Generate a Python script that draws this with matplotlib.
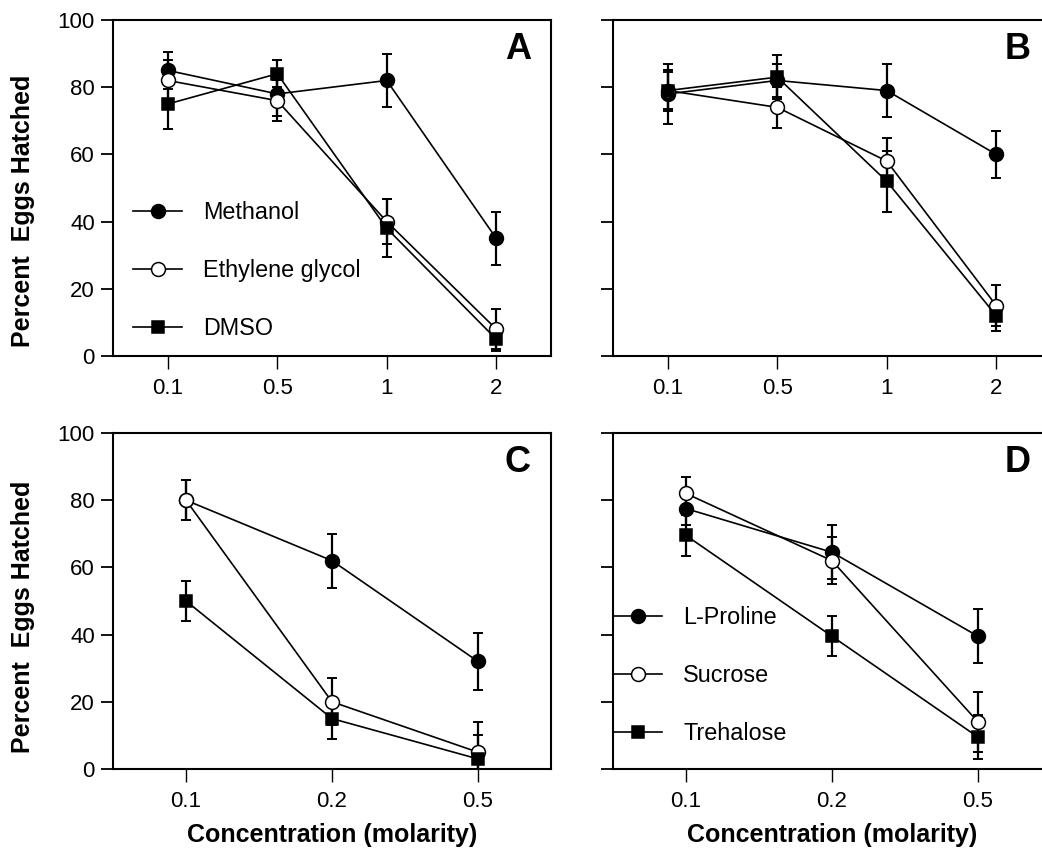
import numpy as np
import matplotlib
matplotlib.use("Agg")
import matplotlib.pyplot as plt

plt.rcParams['font.family'] = ['Liberation Sans', 'DejaVu Sans']

# ---- data ----
conc_top = ['0.1', '0.5', '1', '2']
methanol = [85, 78, 82, 35]
methanol_err = [5.5, 6.5, 8, 8]
ethylene_glycol = [82, 76, 40, 8]
ethylene_glycol_err = [6, 6, 6.6, 6]
dmso = [75, 84, 38, 5]
dmso_err = [7.5, 4, 8.6, 3.5]

methanol_b = [78, 82, 79, 60]
methanol_b_err = [9, 5, 8, 7]
ethylene_glycol_b = [79, 74, 58, 15]
ethylene_glycol_b_err = [5.5, 6, 7, 6]
dmso_b = [79, 83, 52, 12]
dmso_b_err = [6, 6.5, 9, 4.5]

conc_bottom = ['0.1', '0.2', '0.5']
methanol_c = [80, 62, 32]
methanol_c_err = [6, 8, 8.5]
ethylene_glycol_c = [80, 20, 5]
ethylene_glycol_c_err = [6, 7, 9]
dmso_c = [50, 15, 3]
dmso_c_err = [6, 6, 7]

proline = [77.5, 64.5, 39.5]
proline_err = [5, 8, 8]
sucrose = [82, 62, 14]
sucrose_err = [5, 7, 9]
trehalose = [69.5, 39.5, 9.5]
trehalose_err = [6, 6, 6.5]

styles = [dict(marker='o', mfc='black', ms=10),
          dict(marker='o', mfc='white', ms=10),
          dict(marker='s', mfc='black', ms=9)]

fig = plt.figure(figsize=(10.42, 8.5), dpi=100)

W, H = 1042, 850
def add_axes(left_px, top_px, right_px, bottom_px):
    return fig.add_axes([left_px / W, 1 - bottom_px / H,
                         (right_px - left_px) / W, (bottom_px - top_px) / H])

ax_a = add_axes(113, 20, 551, 356)
ax_b = add_axes(613, 20, 1051, 356)
ax_c = add_axes(113, 433, 551, 769)
ax_d = add_axes(613, 433, 1051, 769)


def draw(ax, cats, series, errs, names, label, show_ylabels, legend_pos=None):
    x = np.arange(len(cats))
    handles = []
    for vals, err, st, name in zip(series, errs, styles, names):
        ax.errorbar(x, vals, yerr=err, fmt='none', ecolor='black',
                    elinewidth=1.6, capsize=3.8, capthick=1.4, zorder=2)
        h, = ax.plot(x, vals, color='black', lw=1.2, marker=st['marker'],
                     mfc=st['mfc'], mec='black', mew=1.1, ms=st['ms'],
                     label=name, zorder=3)
        handles.append(h)
    ax.set_xlim(-0.5, len(cats) - 0.5)
    ax.set_ylim(0, 100)
    ax.set_yticks([0, 20, 40, 60, 80, 100])
    ax.set_xticks(x)
    ax.set_xticklabels(cats)
    for s in ax.spines.values():
        s.set_linewidth(1.5)
    ax.tick_params(axis='y', direction='out', length=9, width=1.3,
                   labelsize=16, pad=4, labelleft=show_ylabels)
    ax.tick_params(axis='x', direction='out', length=9, width=1.0,
                   labelsize=16, pad=7)
    ax.text(1 - 20 / 438, 1 - 12 / 336, label, transform=ax.transAxes,
            ha='right', va='top', fontsize=26, fontweight='bold')
    if legend_pos is not None:
        ax.legend(handles=handles, loc='upper left', bbox_to_anchor=legend_pos,
                  frameon=False, fontsize=16.8, handlelength=2.1,
                  handletextpad=0.9, labelspacing=1.5, borderaxespad=0)
    return ax


draw(ax_a, conc_top, [methanol, ethylene_glycol, dmso],
     [methanol_err, ethylene_glycol_err, dmso_err],
     ['Methanol', 'Ethylene glycol', 'DMSO'], 'A', True,
     legend_pos=(11 / 438, 1 - 172 / 336))
draw(ax_b, conc_top, [methanol_b, ethylene_glycol_b, dmso_b],
     [methanol_b_err, ethylene_glycol_b_err, dmso_b_err],
     ['Methanol', 'Ethylene glycol', 'DMSO'], 'B', False)
draw(ax_c, conc_bottom, [methanol_c, ethylene_glycol_c, dmso_c],
     [methanol_c_err, ethylene_glycol_c_err, dmso_c_err],
     ['Methanol', 'Ethylene glycol', 'DMSO'], 'C', True)
draw(ax_d, conc_bottom, [proline, sucrose, trehalose],
     [proline_err, sucrose_err, trehalose_err],
     ['L-Proline', 'Sucrose', 'Trehalose'], 'D', False,
     legend_pos=(-9 / 438, 1 - 164 / 336))

for ax in (ax_c, ax_d):
    ax.set_xlabel('Concentration (molarity)', fontsize=18, fontweight='bold',
                  labelpad=8)

fig.text(23 / W, 1 - 211 / H, 'Percent  Eggs Hatched', rotation=90,
         ha='center', va='center', fontsize=18, fontweight='bold')
fig.text(23 / W, 1 - 617 / H, 'Percent  Eggs Hatched', rotation=90,
         ha='center', va='center', fontsize=18, fontweight='bold')

fig.savefig('out.png', dpi=100)
